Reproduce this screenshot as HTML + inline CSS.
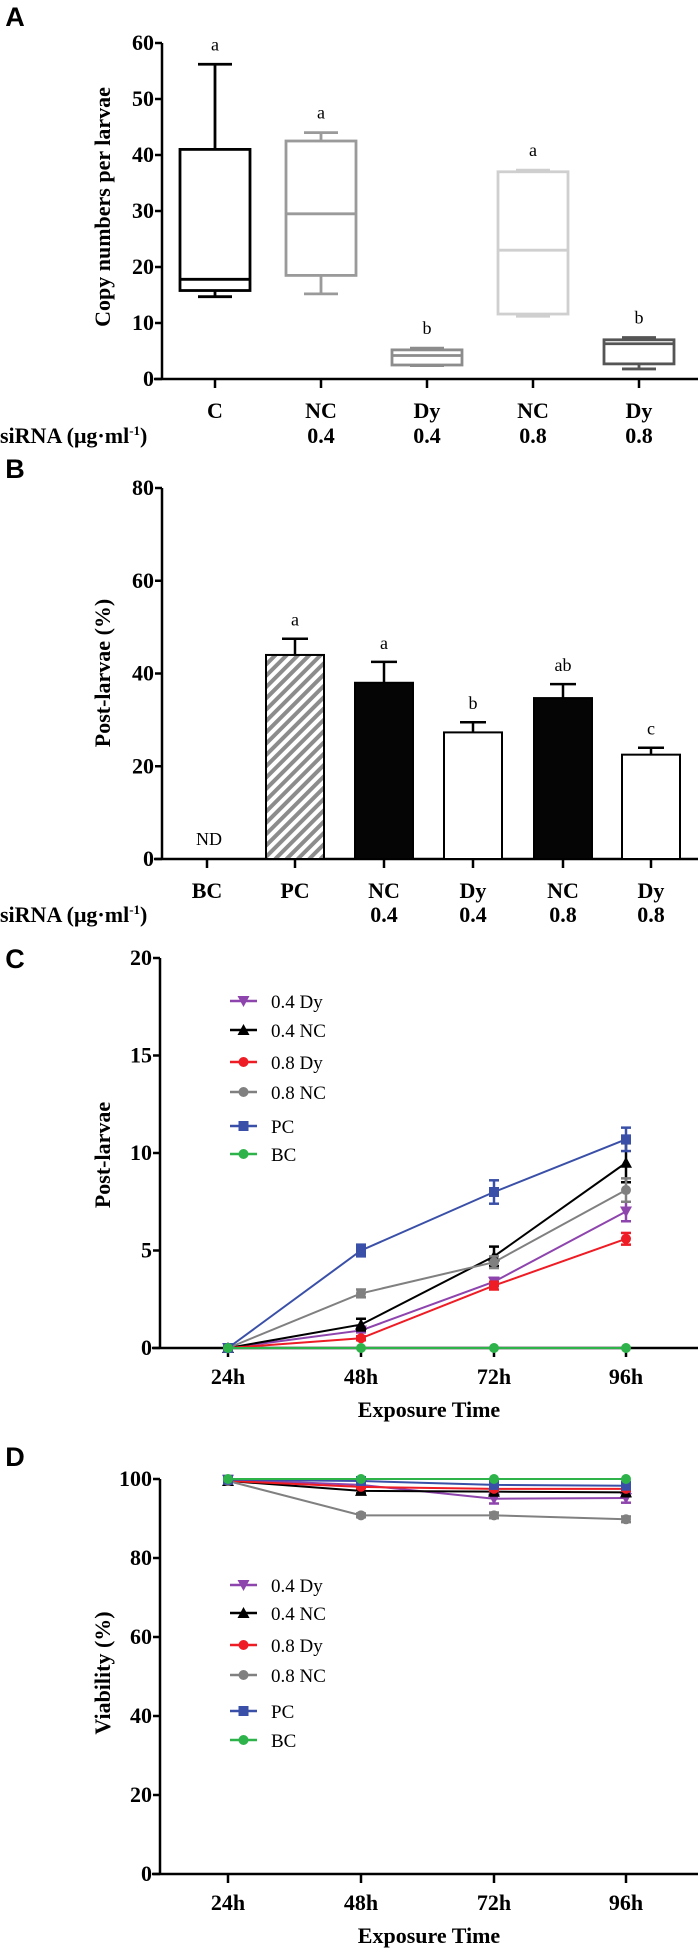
<!DOCTYPE html>
<html><head><meta charset="utf-8">
<style>
html,body{margin:0;padding:0;background:#fff;}
svg{display:block;}
text{font-family:"Liberation Serif",serif;}
.tick{font-weight:bold;font-size:22px;}
.panel{font-family:"Liberation Sans",sans-serif;font-weight:bold;font-size:27px;}
.ttl{font-weight:bold;font-size:22px;}
.leg{font-size:19px;}
.let{font-size:18px;}
</style></head>
<body>
<svg id="fig" width="698" height="1952" viewBox="0 0 698 1952" xmlns="http://www.w3.org/2000/svg">
<defs>
<pattern id="hatch" patternUnits="userSpaceOnUse" width="8" height="8" patternTransform="rotate(45)">
<rect width="8" height="8" fill="#fff"/><rect width="4" height="8" fill="#8c8c8c"/>
</pattern>
</defs>
</svg>
<script>
// ---------- Panel A data ----------
const aCats = ["C","NC","Dy","NC","Dy"];
const aCats2 = ["","0.4","0.4","0.8","0.8"];
const aLow = [14.7,15.2,2.4,11.2,1.8];
const aQ1 = [15.8,18.5,2.5,11.6,2.7];
const aMed = [17.8,29.5,4.2,23,6.3];
const aQ3 = [41,42.5,5.2,37,7];
const aHigh = [56.2,44,5.5,37.3,7.4];
const aLetters = ["a","a","b","a","b"];
const aColors = ["#000","#9a9a9a","#8c8c8c","#cfcfcf","#555"];
const aTicks = [0,10,20,30,40,50,60];
// ---------- Panel B data ----------
const bCats = ["BC","PC","NC","Dy","NC","Dy"];
const bCats2 = ["","","0.4","0.4","0.8","0.8"];
const bVals = [0,44,38,27.3,34.7,22.5];
const bErr = [0,3.5,4.5,2.2,3,1.5];
const bLetters = ["ND","a","a","b","ab","c"];
const bTicks = [0,20,40,60,80];
// ---------- Panel C data ----------
const times = ["24h","48h","72h","96h"];
const seriesNames = ["0.4 Dy","0.4 NC","0.8 Dy","0.8 NC","PC","BC"];
const seriesColors = ["#8e44ad","#000","#ee1c24","#808080","#3a50a8","#2db34a"];
const seriesMarkers = ["tri","tri-up","circle","circle","square","circle"];
const cDy04 = [0,0.9,3.4,7.0];
const cNC04 = [0,1.2,4.7,9.5];
const cDy08 = [0,0.5,3.2,5.6];
const cNC08 = [0,2.8,4.4,8.1];
const cPC = [0,5.0,8.0,10.7];
const cBC = [0,0,0,0];
const cErr04Dy = [0,0.1,0.2,0.5];
const cErr04NC = [0,0.3,0.5,1.0];
const cErr08Dy = [0,0.1,0.2,0.3];
const cErr08NC = [0,0.2,0.3,0.6];
const cErrPC = [0,0.3,0.6,0.6];
const cErrBC = [0,0,0,0];
const cTicks = [0,5,10,15,20];
// ---------- Panel D data ----------
const dDy04 = [99.8,98.5,95,95.2];
const dNC04 = [99.5,97,96.8,96.6];
const dDy08 = [99.5,98,97.5,97.5];
const dNC08 = [99.5,90.8,90.8,89.8];
const dPC = [99.8,99.5,98.5,98.3];
const dBC = [100,100,100,100];
const dErr = [0,0.8,1.2,1.2];
const dTicks = [0,20,40,60,80,100];

const NS="http://www.w3.org/2000/svg";
const svg=document.getElementById('fig');
function mk(tag,attrs,parent){const e=document.createElementNS(NS,tag);for(const k in attrs)e.setAttribute(k,attrs[k]);(parent||svg).appendChild(e);return e;}
function txt(s,x,y,cls,parent,anchor){const t=mk('text',{x:x,y:y,class:cls,'text-anchor':anchor||'middle'},parent);t.textContent=s;return t;}

function axes(g,x0,xEnd,yScale,ticks,title,titleY){
  const yTop=yScale(ticks[ticks.length-1]),yBot=yScale(ticks[0]);
  const ax=mk('line',{x1:x0,y1:yTop,x2:x0,y2:yBot,stroke:'#000','stroke-width':2.5},g);
  
  
  const bx=mk('line',{x1:x0-8,y1:yBot,x2:xEnd,y2:yBot,stroke:'#000','stroke-width':2.5},g);
  
  
  ticks.forEach(v=>{
    const y=yScale(v);
    mk('line',{x1:x0-7,y1:y,x2:x0,y2:y,stroke:'#000','stroke-width':2.5},g);
    const t=txt(String(v),x0-8,y+7,'tick',g,'end');
    
    
  });
  const tt=mk('text',{x:0,y:0,class:'ttl','text-anchor':'middle',transform:`translate(110,${titleY}) rotate(-90)`},g);
  tt.textContent=title;
  
  
}

// ===== Panel A =====
(function(){
  const g=mk('g',{});
  
  
  txt('A',15,26,'panel',g);
  const y=v=>379-v*5.6;
  const xs=[215,321,427,533,639];
  axes(g,162,698,y,aTicks,'Copy numbers per larvae',207);
  aCats.forEach((c,i)=>{
    const x=xs[i],col=aColors[i],hw=35;
    const bg=mk('g',{stroke:col,'stroke-width':2.8,fill:'none'},g);
    
    
    mk('line',{x1:x,y1:y(aHigh[i]),x2:x,y2:y(aQ3[i])},bg);
    mk('line',{x1:x,y1:y(aLow[i]),x2:x,y2:y(aQ1[i])},bg);
    mk('line',{x1:x-17,y1:y(aHigh[i]),x2:x+17,y2:y(aHigh[i])},bg);
    mk('line',{x1:x-17,y1:y(aLow[i]),x2:x+17,y2:y(aLow[i])},bg);
    mk('rect',{x:x-hw,y:y(aQ3[i]),width:hw*2,height:y(aQ1[i])-y(aQ3[i]),fill:'#fff'},bg);
    mk('line',{x1:x-hw,y1:y(aMed[i]),x2:x+hw,y2:y(aMed[i])},bg);
    mk('line',{x1:x,y1:379,x2:x,y2:388,stroke:'#000','stroke-width':2.5},g);
    const l=txt(aLetters[i],x,y(aHigh[i])-14,'let',g);
    
    
    const t=txt(c,x,418,'tick',g);
    
    
    if(aCats2[i]){txt(aCats2[i],x,443,'tick',g);}
  });
  const s=txt('siRNA (μg·ml',0,443,'tick',g,'start');
  
  
  const ts=mk('tspan',{dy:-8,'font-size':13},s);ts.textContent='-1';
  const ts2=mk('tspan',{dy:8},s);ts2.textContent=')';
})();

// ===== Panel B =====
(function(){
  const g=mk('g',{});
  
  
  txt('B',15,478,'panel',g);
  const y=v=>859-v*4.6375;
  const xs=[207,295,384,473,563,651];
  axes(g,162,698,y,bTicks,'Post-larvae (%)',673);
  const fills=['#fff','url(#hatch)','#050505','#fff','#050505','#fff'];
  bCats.forEach((c,i)=>{
    const x=xs[i];
    mk('line',{x1:x,y1:859,x2:x,y2:868,stroke:'#000','stroke-width':2.5},g);
    if(bVals[i]>0){
      const top=y(bVals[i]+bErr[i]);
      mk('line',{x1:x,y1:top,x2:x,y2:y(bVals[i]),stroke:'#000','stroke-width':2.5},g);
      mk('line',{x1:x-13,y1:top,x2:x+13,y2:top,stroke:'#000','stroke-width':2.5},g);
      const r=mk('rect',{x:x-29,y:y(bVals[i]),width:58,height:859-y(bVals[i]),fill:fills[i],stroke:'#000','stroke-width':2},g);
      
      
      const l=txt(bLetters[i],x,top-13,'let',g);
      
      
    } else {
      const l=txt(bLetters[i],x+2,845,'let',g);
      
      
    }
    const t=txt(c,x,898,'tick',g);
    
    
    if(bCats2[i]){txt(bCats2[i],x,922,'tick',g);}
  });
  const s=txt('siRNA (μg·ml',0,922,'tick',g,'start');
  
  
  const ts=mk('tspan',{dy:-8,'font-size':13},s);ts.textContent='-1';
  const ts2=mk('tspan',{dy:8},s);ts2.textContent=')';
})();

function marker(g,type,x,y,col,sz){
  if(type==='square') return mk('rect',{x:x-sz,y:y-sz,width:sz*2,height:sz*2,fill:col},g);
  if(type==='tri') return mk('polygon',{points:`${x-sz-1},${y-sz} ${x+sz+1},${y-sz} ${x},${y+sz+1}`,fill:col},g);
  if(type==='tri-up') return mk('polygon',{points:`${x-sz-1},${y+sz} ${x+sz+1},${y+sz} ${x},${y-sz-1}`,fill:col},g);
  return mk('circle',{cx:x,cy:y,r:sz,fill:col},g);
}

function linePanel(name,letter,letterY,y,ticks,title,titleY,data,errs,xAxisY,legYs,tickY){
  const g=mk('g',{});
  
  
  txt(letter,15,letterY,'panel',g);
  const xs=[228,361,494,626];
  axes(g,160,698,y,ticks,title,titleY);
  times.forEach((t,i)=>{
    mk('line',{x1:xs[i],y1:xAxisY,x2:xs[i],y2:xAxisY+9,stroke:'#000','stroke-width':2.5},g);
    const l=txt(t,xs[i],tickY,'tick',g);
    
    
  });
  const xt=txt('Exposure Time',429,tickY+33,'ttl',g);
  
  
  data.forEach((vals,si)=>{
    const col=seriesColors[si];
    const sg=mk('g',{},g);
    
    
    const pts=vals.map((v,i)=>`${xs[i]},${y(v)}`).join(' ');
    mk('polyline',{points:pts,fill:'none',stroke:col,'stroke-width':2},sg);
    vals.forEach((v,i)=>{
      const e=errs[si][i];
      if(e>0){
        mk('line',{x1:xs[i],y1:y(v+e),x2:xs[i],y2:y(v-e),stroke:col,'stroke-width':2.5},sg);
        mk('line',{x1:xs[i]-5,y1:y(v+e),x2:xs[i]+5,y2:y(v+e),stroke:col,'stroke-width':2.5},sg);
        mk('line',{x1:xs[i]-5,y1:y(v-e),x2:xs[i]+5,y2:y(v-e),stroke:col,'stroke-width':2.5},sg);
      }
      const m=marker(sg,seriesMarkers[si],xs[i],y(v),col,5);
      
      
    });
  });
  seriesNames.forEach((n,si)=>{
    const ly=legYs[si];
    const lg=mk('g',{},g);
    
    
    mk('line',{x1:230,y1:ly,x2:257,y2:ly,stroke:seriesColors[si],'stroke-width':2.5},lg);
    marker(lg,seriesMarkers[si],243.5,ly,seriesColors[si],5);
    txt(n,271,ly+7,'leg',lg,'start');
  });
}

linePanel('panel-c','C',968,v=>1348-v*19.5,cTicks,'Post-larvae',1155,
  [cDy04,cNC04,cDy08,cNC08,cPC,cBC],[cErr04Dy,cErr04NC,cErr08Dy,cErr08NC,cErrPC,cErrBC],
  1348,[1001,1030,1062,1092,1126,1154],1384);
linePanel('panel-d','D',1466,v=>1874-v*3.95,dTicks,'Viability (%)',1673,
  [dDy04,dNC04,dDy08,dNC08,dPC,dBC],[dErr,dErr.map(e=>e*0.8),dErr.map(e=>e*0.4),dErr.map(e=>e*0.6),dErr.map(e=>e*0.5),[0,0,0,0]],
  1874,[1585,1613,1645,1675,1711,1740],1910);
</script>
</body></html>
